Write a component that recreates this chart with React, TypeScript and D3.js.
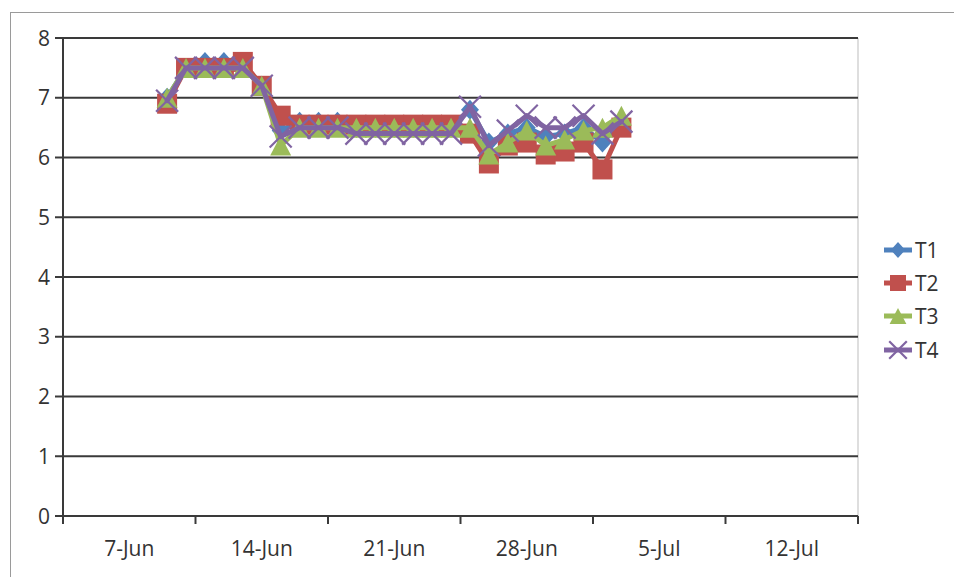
import React, { useEffect } from "react";
import * as d3 from "d3";

// Daily readings, 12-Jun through 6-Jul
const dayLabels = [
  "12-Jun", "13-Jun", "14-Jun", "15-Jun", "16-Jun", "17-Jun", "18-Jun", "19-Jun",
  "20-Jun", "21-Jun", "22-Jun", "23-Jun", "24-Jun", "25-Jun", "26-Jun", "27-Jun",
  "28-Jun", "29-Jun", "30-Jun", "1-Jul", "2-Jul", "3-Jul", "4-Jul", "5-Jul", "6-Jul",
];
const t1 = [7.0, 7.5, 7.6, 7.6, 7.5, 7.2, 6.45, 6.6, 6.6, 6.6, 6.5, 6.5, 6.5, 6.5, 6.5, 6.5, 6.8, 6.25, 6.4, 6.5, 6.35, 6.4, 6.5, 6.25, 6.6];
const t2 = [6.9, 7.5, 7.5, 7.5, 7.6, 7.2, 6.7, 6.55, 6.55, 6.55, 6.55, 6.55, 6.55, 6.55, 6.55, 6.55, 6.4, 5.9, 6.2, 6.25, 6.05, 6.1, 6.25, 5.8, 6.5];
const t3 = [7.0, 7.5, 7.5, 7.5, 7.5, 7.2, 6.2, 6.5, 6.5, 6.5, 6.5, 6.5, 6.5, 6.5, 6.5, 6.5, 6.5, 6.05, 6.25, 6.45, 6.2, 6.3, 6.45, 6.5, 6.7];
const t4 = [6.95, 7.5, 7.5, 7.5, 7.5, 7.2, 6.35, 6.5, 6.5, 6.5, 6.4, 6.4, 6.4, 6.4, 6.4, 6.4, 6.85, 6.2, 6.45, 6.7, 6.5, 6.5, 6.7, 6.4, 6.6];

const seriesNames = ["T1", "T2", "T3", "T4"];
const seriesValues = [t1, t2, t3, t4];
const seriesColors = ["#4F81BD", "#C0504D", "#9BBB59", "#8064A2"];
const markerKinds = ["diamond", "square", "triangle", "cross"];

const yTicks = [0, 1, 2, 3, 4, 5, 6, 7, 8];
const weekLabels = ["7-Jun", "14-Jun", "21-Jun", "28-Jun", "5-Jul", "12-Jul", "19-Jul"];
const YEAR = 2013;

const months: Record<string, number> = { Jun: 5, Jul: 6 };
function parseDay(s: string): Date {
  const [d, m] = s.split("-");
  return new Date(Date.UTC(YEAR, months[m], +d));
}

const W = 954;
const H = 577;
const plot = { left: 63, right: 858, top: 38, bottom: 516 };
const FONT = "'Open Sans', 'Noto Sans', sans-serif";

function Marker({ kind, cx, cy, color, scale = 1 }: { kind: string; cx: number; cy: number; color: string; scale?: number }) {
  if (kind === "diamond") {
    const w = 9 * scale, h = 10 * scale;
    return <polygon points={`${cx},${cy - h} ${cx + w},${cy} ${cx},${cy + h} ${cx - w},${cy}`} fill={color} />;
  }
  if (kind === "square") {
    const s = 10 * scale;
    return <rect x={cx - s} y={cy - s} width={2 * s} height={2 * s} fill={color} />;
  }
  if (kind === "triangle") {
    const w = 10.5 * scale, h = 10 * scale;
    return <polygon points={`${cx},${cy - h} ${cx + w},${cy + h} ${cx - w},${cy + h}`} fill={color} />;
  }
  const a = 11 * scale;
  return (
    <g stroke={color} strokeWidth={2.2}>
      <line x1={cx - a} y1={cy - a} x2={cx + a} y2={cy + a} />
      <line x1={cx - a} y1={cy + a} x2={cx + a} y2={cy - a} />
    </g>
  );
}

export default function App() {
  useEffect(() => {
    document.body.style.margin = "0";
  }, []);

  const weekDates = weekLabels.map(parseDay);
  const x = d3.scaleUtc().domain([weekDates[0], weekDates[weekDates.length - 1]]).range([plot.left, plot.right]);
  const y = d3.scaleLinear().domain([0, 8]).range([plot.bottom, plot.top]);

  const dates = dayLabels.map(parseDay);
  const px = (d: Date) => x(d3.utcHour.offset(d, 12));

  const line = d3
    .line<number>()
    .x((_, i) => px(dates[i]))
    .y((v) => y(v));

  const legendX = 898;
  const legendY = [250, 283, 316, 350];

  return (
    <svg width={W} height={H} style={{ display: "block", background: "#fff" }} fontFamily={FONT}>
      {/* chart frame */}
      <rect x={10.5} y={12.5} width={W + 20} height={H + 20} fill="none" stroke="#9a9a9a" strokeWidth={1} />

      {/* plot area right edge */}
      <line x1={plot.right} x2={plot.right} y1={plot.top} y2={plot.bottom} stroke="#c8c8c8" strokeWidth={1.2} />

      {/* horizontal gridlines */}
      {yTicks.map((t) => (
        <line key={"g" + t} x1={plot.left} x2={plot.right} y1={y(t)} y2={y(t)} stroke="#3a3a3a" strokeWidth={2} />
      ))}

      {/* y axis */}
      <line x1={plot.left} x2={plot.left} y1={plot.top} y2={plot.bottom + 7} stroke="#3a3a3a" strokeWidth={2} />
      {yTicks.map((t) => (
        <g key={"y" + t}>
          <line x1={plot.left - 8} x2={plot.left} y1={y(t)} y2={y(t)} stroke="#3a3a3a" strokeWidth={2} />
          <text x={plot.left - 13} y={y(t)} dy="0.36em" textAnchor="end" fontSize={21} fill="#333">
            {t}
          </text>
        </g>
      ))}

      {/* x axis ticks and weekly labels */}
      {weekDates.map((d, i) => (
        <g key={"x" + i}>
          <line x1={x(d)} x2={x(d)} y1={plot.bottom} y2={plot.bottom + 8} stroke="#3a3a3a" strokeWidth={2} />
          {i < weekDates.length - 1 && (
            <text x={x(d3.utcHour.offset(d, 84))} y={556} textAnchor="middle" fontSize={21} fill="#333">
              {weekLabels[i]}
            </text>
          )}
        </g>
      ))}

      {/* series */}
      {seriesValues.map((vals, s) => (
        <g key={seriesNames[s]}>
          <path d={line(vals) || ""} fill="none" stroke={seriesColors[s]} strokeWidth={5} strokeLinejoin="round" strokeLinecap="round" />
          {vals.map((v, i) => (
            <Marker key={i} kind={markerKinds[s]} cx={px(dates[i])} cy={y(v)} color={seriesColors[s]} />
          ))}
        </g>
      ))}

      {/* legend */}
      {seriesNames.map((name, s) => (
        <g key={"l" + name}>
          <line x1={legendX - 14} x2={legendX + 14} y1={legendY[s]} y2={legendY[s]} stroke={seriesColors[s]} strokeWidth={5} />
          <Marker kind={markerKinds[s]} cx={legendX} cy={legendY[s]} color={seriesColors[s]} scale={0.8} />
          <text x={legendX + 17} y={legendY[s]} dy="0.36em" fontSize={21} fill="#333">
            {name}
          </text>
        </g>
      ))}
    </svg>
  );
}
